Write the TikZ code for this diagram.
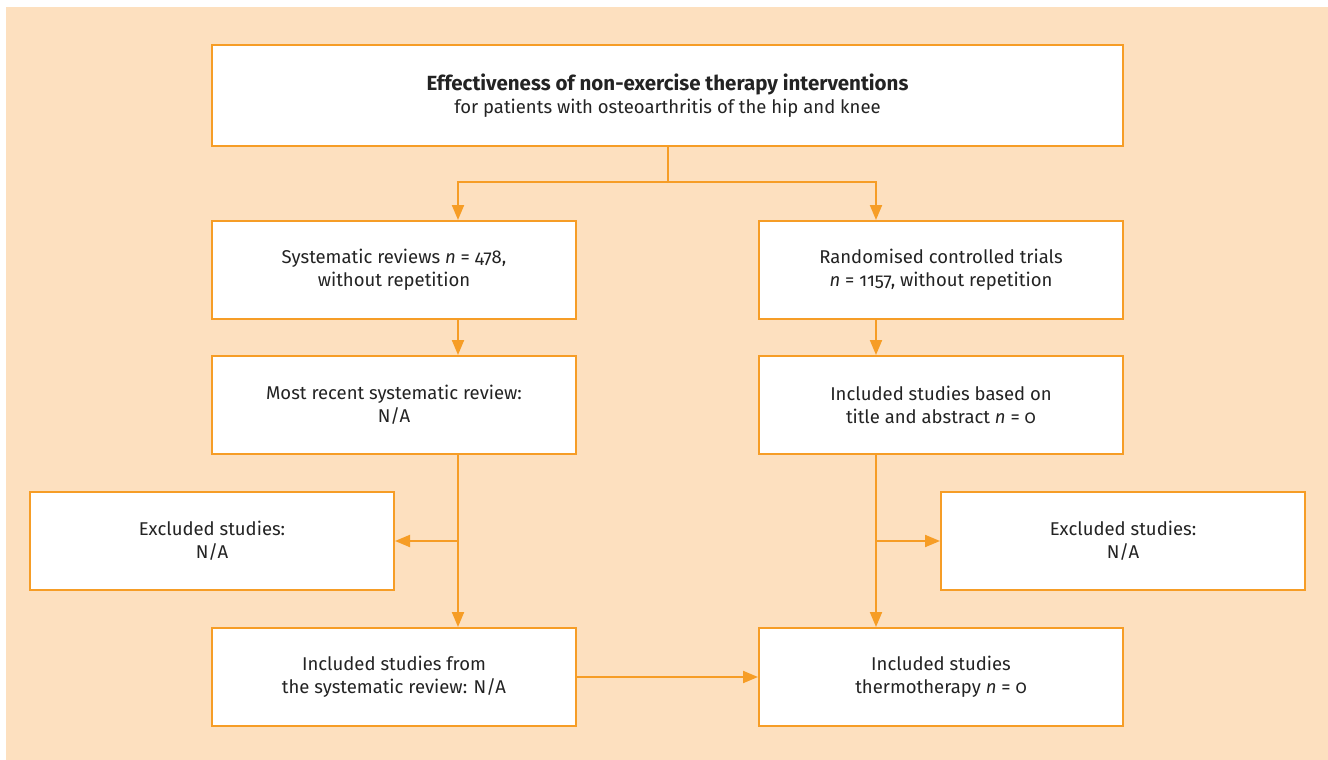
\documentclass[tikz,border=0pt]{standalone}
\usepackage{fontspec}
\setmainfont{Fira Sans}[Numbers=OldStyle]
\usetikzlibrary{arrows.meta}
\definecolor{peach}{RGB}{253,224,191}
\definecolor{org}{RGB}{246,157,38}
\definecolor{txt}{RGB}{35,35,35}
\tikzset{
  box/.style={draw=org, line width=2pt, fill=white, minimum width=364pt, minimum height=98pt,
    inner sep=0pt, align=center, text=txt, font=\fontsize{18.5}{23}\selectfont, anchor=north west},
  arr/.style={draw=org, line width=2pt, -{Triangle[length=15pt,width=12pt]}},
  ln/.style={draw=org, line width=2pt}
}
\begin{document}
\begin{tikzpicture}[x=1pt,y=-1pt]
\useasboundingbox (0,0) rectangle (1328,760);
\fill[peach] (6,7) rectangle (1328,760);
\node[box, minimum width=911pt, minimum height=101pt] (top) at (211,44)
  {{\fontsize{20.5}{23}\selectfont\bfseries Effectiveness of non-exercise therapy interventions}\\ for patients with osteoarthritis of the hip and knee};
\node[box] (sr) at (211,220) {Systematic reviews \textit{n} = 478,\\ without repetition};
\node[box] (rct) at (758,220) {Randomised controlled trials\\ \textit{n} = 1157, without repetition};
\node[box] (mr) at (211,355) {Most recent systematic review:\\ N/A};
\node[box] (ita) at (758,355) {Included studies based on\\ title and abstract \textit{n} = 0};
\node[box] (exl) at (29,491) {Excluded studies:\\ N/A};
\node[box] (exr) at (940,491) {Excluded studies:\\ N/A};
\node[box] (isr) at (211,627) {Included studies from\\ the systematic review: N/A};
\node[box] (ith) at (758,627) {Included studies\\ thermotherapy \textit{n} = 0};
\coordinate (lx) at (458,0);
\coordinate (rx) at (876,0);
\coordinate (jn) at (668,182);
\draw[ln] (top.south -| jn) -- (jn);
\draw[arr] (jn) -| (sr.north -| lx);
\draw[arr] (jn) -| (rct.north -| rx);
\draw[arr] (sr.south -| lx) -- (mr.north -| lx);
\draw[arr] (rct.south -| rx) -- (ita.north -| rx);
\draw[arr] (mr.south -| lx) -- (isr.north -| lx);
\draw[arr] (ita.south -| rx) -- (ith.north -| rx);
\draw[arr] (exl.east -| lx) -- (exl.east);
\draw[arr] (exr.west -| rx) -- (exr.west);
\draw[arr] (isr.east) -- (ith.west);
\end{tikzpicture}
\end{document}
